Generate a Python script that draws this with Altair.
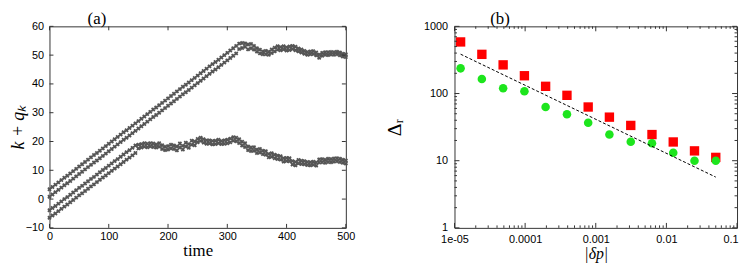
import altair as alt
import pandas as pd

# ---------------- panel (a) data ----------------
t_rise_1 = list(range(0, 320, 5))
lo1_rise = [0.8, 1.6, 2.4, 3.2, 4.0, 4.8, 5.5, 6.3, 7.1, 7.9,
            8.7, 9.5, 10.3, 11.1, 11.9, 12.7, 13.4, 14.2, 15.0, 15.8,
            16.6, 17.4, 18.2, 19.0, 19.8, 20.6, 21.3, 22.1, 22.9, 23.7,
            24.5, 25.3, 26.1, 26.9, 27.7, 28.5, 29.2, 30.0, 30.8, 31.6,
            32.4, 33.2, 34.0, 34.8, 35.6, 36.4, 37.1, 37.9, 38.7, 39.5,
            40.3, 41.1, 41.9, 42.7, 43.5, 44.3, 45.0, 45.8, 46.6, 47.4,
            48.2, 49.0, 49.8, 50.6]
hi1_rise = [3.4, 4.2, 5.0, 5.8, 6.6, 7.4, 8.1, 8.9, 9.7, 10.5,
            11.3, 12.1, 12.9, 13.7, 14.5, 15.3, 16.0, 16.8, 17.6, 18.4,
            19.2, 20.0, 20.8, 21.6, 22.4, 23.2, 23.9, 24.7, 25.5, 26.3,
            27.1, 27.9, 28.7, 29.5, 30.3, 31.1, 31.8, 32.6, 33.4, 34.2,
            35.0, 35.8, 36.6, 37.4, 38.2, 39.0, 39.7, 40.5, 41.3, 42.1,
            42.9, 43.7, 44.5, 45.3, 46.1, 46.9, 47.6, 48.4, 49.2, 50.0,
            50.8, 51.6, 52.4, 53.2]
t_flat_1 = list(range(320, 505, 5))
hi1_flat = [54.0, 54.2, 54.1, 53.7, 53.9, 53.2, 52.4, 51.9, 51.3, 51.5,
            51.2, 52.0, 52.6, 53.1, 52.8, 53.1, 52.7, 53.0, 53.2, 52.9,
            52.3, 52.0, 51.5, 51.1, 51.3, 51.4, 50.9, 50.2, 50.8, 51.0,
            51.0, 51.1, 51.0, 51.2, 50.9, 50.5, 50.3]
lo1_flat = [52.1, 52.5, 52.9, 52.0, 52.4, 51.9, 51.2, 50.6, 50.3, 50.3,
            50.1, 50.7, 51.3, 51.9, 51.7, 52.0, 51.6, 51.8, 52.1, 51.7,
            51.3, 50.9, 50.5, 50.1, 50.3, 50.4, 49.9, 49.1, 49.8, 50.1,
            50.0, 50.2, 50.1, 50.3, 49.9, 49.5, 49.3]

t_rise_2 = list(range(0, 150, 5))
lo2_rise = [-6.5, -5.7, -5.0, -4.2, -3.4, -2.6, -1.9, -1.1, -0.3, 0.5,
            1.3, 2.0, 2.8, 3.6, 4.4, 5.1, 5.9, 6.7, 7.5, 8.2,
            9.0, 9.8, 10.6, 11.3, 12.1, 12.9, 13.7, 14.4, 15.2, 16.0]
hi2_rise = [-3.9, -3.1, -2.4, -1.6, -0.8, 0.0, 0.7, 1.5, 2.3, 3.1,
            3.9, 4.6, 5.4, 6.2, 7.0, 7.7, 8.5, 9.3, 10.1, 10.8,
            11.6, 12.4, 13.2, 13.9, 14.7, 15.5, 16.3, 17.0, 17.8, 18.6]
t_flat_2 = list(range(150, 505, 5))
hi2_flat = [18.9, 19.1, 19.4, 19.2, 19.4, 19.3, 19.0, 19.4, 18.7, 18.2,
            18.4, 18.9, 18.6, 18.3, 19.3, 18.5, 19.6, 19.1, 20.3, 20.0,
            20.9, 21.3, 20.8, 20.4, 20.4, 20.2, 20.3, 20.6, 20.2, 20.4,
            20.6, 21.0, 21.5, 21.3, 20.8, 19.9, 19.4, 18.3, 17.9, 18.0,
            17.2, 17.4, 16.8, 16.6, 15.7, 15.9, 15.4, 15.1, 14.9, 14.2,
            14.3, 14.2, 13.2, 12.9, 13.6, 13.3, 13.2, 12.9, 12.8, 13.0,
            12.7, 13.8, 13.9, 13.7, 14.0, 13.9, 14.1, 14.2, 14.0, 13.7,
            13.4]
lo2_flat = [17.6, 17.9, 18.2, 18.0, 18.3, 18.1, 17.9, 18.2, 17.4, 17.0,
            17.2, 17.6, 17.4, 16.9, 17.9, 17.2, 18.3, 17.8, 18.9, 18.7,
            19.7, 20.2, 19.6, 19.2, 19.3, 19.0, 19.1, 19.4, 19.1, 19.2,
            19.4, 19.7, 20.3, 20.1, 19.5, 18.6, 18.1, 17.0, 16.7, 16.8,
            16.0, 16.2, 15.6, 15.4, 14.5, 14.7, 14.2, 13.9, 13.7, 13.0,
            13.2, 13.1, 12.0, 11.7, 12.4, 12.2, 12.1, 11.8, 11.7, 11.9,
            11.6, 12.7, 12.8, 12.6, 12.9, 12.8, 13.0, 13.1, 12.9, 12.6,
            12.3]

xa_ticks = [0, 100, 200, 300, 400, 500]
ya_ticks = [-10, 0, 10, 20, 30, 40, 50, 60]

# ---------------- panel (b) data ----------------
dp = [1.22e-5, 2.44e-5, 4.88e-5, 9.77e-5, 1.95e-4, 3.91e-4, 7.81e-4,
      1.56e-3, 3.13e-3, 6.25e-3, 0.0125, 0.025, 0.05]
delta_red = [586, 383, 267, 184, 128, 94, 63, 44.5, 33.5, 24.5, 19, 14, 11.2]
delta_green = [237, 165, 120, 108, 63, 49, 36.6, 24.5, 19.2, 18.2, 13.1, 10, 10]
fit_dp = [1.22e-5, 0.05]
fit_delta = [385, 5.7]

xb_major = [1e-5, 1e-4, 1e-3, 1e-2, 1e-1]
xb_labels = ["1e-05", "0.0001", "0.001", "0.01", "0.1"]
yb_major = [1, 10, 100, 1000]
yb_labels = ["1", "10", "100", "1000"]
xb_minor = [k * 10.0 ** e for e in range(-5, -1) for k in range(2, 10)]
yb_minor = [k * 10.0 ** e for e in range(0, 3) for k in range(2, 10)]

panel_labels = ["(a)", "(b)"]

# ---------------- tables ----------------
rows = []
for ts, vs in [(t_rise_1, lo1_rise), (t_rise_1, hi1_rise), (t_flat_1, hi1_flat),
               (t_flat_1, lo1_flat), (t_rise_2, lo2_rise), (t_rise_2, hi2_rise),
               (t_flat_2, hi2_flat), (t_flat_2, lo2_flat)]:
    rows += [{"t": t, "v": v} for t, v in zip(ts, vs)]
df_a = pd.DataFrame(rows)
df_red = pd.DataFrame({"dp": dp, "val": delta_red})
df_green = pd.DataFrame({"dp": dp, "val": delta_green})
df_fit = pd.DataFrame({"dp": fit_dp, "val": fit_delta})

W_A, W_B, H = 300, 286, 204
FRAME = "#333"
LBL = dict(labelFont="Liberation Sans", labelFontSize=11, labelColor="#000", labelFlush=False)
TTL = dict(titleFont="Liberation Serif", titleFontWeight="normal", titleColor="#000")


def label_expr(values, labels):
    expr = "'" + labels[-1] + "'"
    for v, l in reversed(list(zip(values[:-1], labels[:-1]))):
        expr = f"datum.value < {v * 3} ? '{l}' : " + expr
    return expr


def panel_label(txt, xpos):
    return alt.Chart(pd.DataFrame({"lab": [txt]})).mark_text(
        font="Liberation Serif", fontSize=17, baseline="alphabetic", align="center", color="#000"
    ).encode(text="lab:N", x=alt.value(xpos), y=alt.value(-2))


def inward_ticks(values, field, scale, channel, size, W):
    """Inward tick marks on both opposite edges, placed by the scale."""
    df = pd.DataFrame({field: values})
    base = alt.Chart(df).mark_rule(color=FRAME, strokeWidth=1)
    if channel == "x":
        enc = alt.X(f"{field}:Q", scale=scale, axis=None)
        return [base.encode(x=enc, y=alt.value(H), y2=alt.value(H - size)),
                base.encode(x=enc, y=alt.value(0), y2=alt.value(size))]
    enc = alt.Y(f"{field}:Q", scale=scale, axis=None)
    return [base.encode(y=enc, x=alt.value(0), x2=alt.value(size)),
            base.encode(y=enc, x=alt.value(W), x2=alt.value(W - size))]


# ---------------- panel (a) ----------------
xsa = alt.Scale(domain=[0, 500], nice=False, zero=False)
ysa = alt.Scale(domain=[-10, 60], nice=False, zero=False)

pts_a = alt.Chart(df_a).mark_point(shape="cross", filled=True, size=20, angle=45,
                                   color="#555", opacity=1).encode(
    x=alt.X("t:Q", scale=xsa, axis=alt.Axis(orient="bottom", values=xa_ticks, ticks=False, tickSize=0,
                                             domain=False, grid=False, labelPadding=3, title="time",
                                             titleFontSize=17, titlePadding=1, **LBL, **TTL)),
    y=alt.Y("v:Q", scale=ysa, axis=alt.Axis(orient="left", values=ya_ticks, ticks=False, tickSize=0,
                                             domain=False, grid=False, labelPadding=6, title="k + qₖ",
                                             titleFontSize=18, titleFontStyle="italic", titlePadding=-2,
                                             **LBL, **TTL)),
)
ticks_a = (inward_ticks(xa_ticks, "tx", xsa, "x", 4, W_A) +
           inward_ticks(ya_ticks, "ty", ysa, "y", 4, W_A))
panel_a = alt.layer(pts_a, *ticks_a, panel_label(panel_labels[0], 48)).resolve_axis(
    x="independent", y="independent").properties(width=W_A, height=H)

# ---------------- panel (b) ----------------
xsb = alt.Scale(type="log", domain=[1e-5, 0.1], nice=False)
ysb = alt.Scale(type="log", domain=[1, 1000], nice=False)

red = alt.Chart(df_red).mark_square(size=90, color="#ff0000", opacity=1).encode(
    x=alt.X("dp:Q", scale=xsb, axis=alt.Axis(orient="bottom", values=xb_major[:-1], ticks=False, tickSize=0,
                                              domain=False, grid=False, labelPadding=6,
                                              labelExpr=label_expr(xb_major, xb_labels),
                                              title="|δp|", titleFontSize=16, titleFontStyle="italic",
                                              titlePadding=1, **LBL, **TTL)),
    y=alt.Y("val:Q", scale=ysb, axis=alt.Axis(orient="left", values=yb_major, ticks=False, tickSize=0,
                                               domain=False, grid=False, labelPadding=7,
                                               labelExpr=label_expr(yb_major, yb_labels),
                                               title="Δᵣ", titleFontSize=20, titlePadding=19,
                                               **LBL, **TTL)),
)
# last x label ("0.1") kept inside the page
last_lbl = alt.Chart(df_red).mark_point(opacity=0).encode(
    x=alt.X("dp:Q", scale=xsb, axis=alt.Axis(orient="bottom", values=xb_major[-1:], ticks=False, tickSize=0,
                                              domain=False, grid=False, labelPadding=6, labelAlign="right",
                                              labelOffset=1, labelFont="Liberation Sans", labelFontSize=11,
                                              labelColor="#000",
                                              labelExpr="'" + xb_labels[-1] + "'", title=None)),
    y=alt.Y("val:Q", scale=ysb, axis=None))
green = alt.Chart(df_green).mark_circle(size=75, color="#1de51d", opacity=1).encode(
    x=alt.X("dp:Q", scale=xsb, axis=None), y=alt.Y("val:Q", scale=ysb, axis=None))
fit = alt.Chart(df_fit).mark_line(strokeDash=[3, 2], color="#000", strokeWidth=1).encode(
    x=alt.X("dp:Q", scale=xsb, axis=None), y=alt.Y("val:Q", scale=ysb, axis=None))

ticks_b = (inward_ticks(xb_major, "tx", xsb, "x", 5, W_B) +
           inward_ticks(yb_major, "ty", ysb, "y", 5, W_B) +
           inward_ticks(xb_minor, "mx", xsb, "x", 2.5, W_B) +
           inward_ticks(yb_minor, "my", ysb, "y", 2.5, W_B))

panel_b = alt.layer(red, last_lbl, green, fit, *ticks_b, panel_label(panel_labels[1], 46)).resolve_axis(
    x="independent", y="independent").properties(width=W_B, height=H)

chart = alt.hconcat(panel_a, panel_b, spacing=29).configure(
    padding={"left": 0, "top": 0, "right": 0, "bottom": 0}
).configure_view(stroke=FRAME, strokeWidth=1)

chart.save("out.html", embed_options={"renderer": "svg", "actions": False})
